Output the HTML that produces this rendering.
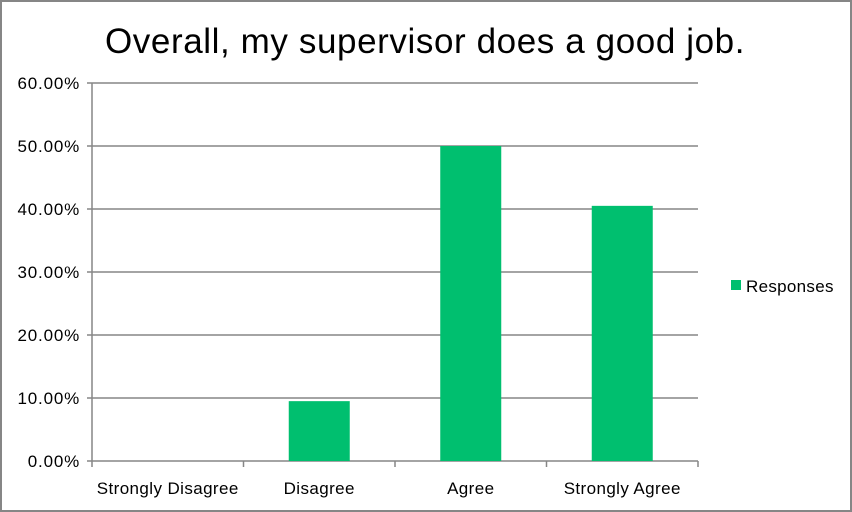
<!DOCTYPE html>
<html><head><meta charset="utf-8"><style>
html,body{margin:0;padding:0;background:#fff;}
svg{display:block;font-family:"Liberation Sans",sans-serif;}
</style></head><body>
<svg id="chart" width="852" height="512" viewBox="0 0 852 512">
<rect x="1" y="1" width="850" height="510" fill="#fff" stroke="#868686" stroke-width="2"/>
<text x="425" y="53" text-anchor="middle" font-size="35" letter-spacing="0.6" fill="#000">Overall, my supervisor does a good job.</text>
<g id="grid"></g><g id="bars"></g><g id="axes"></g>
<g>
<rect x="731" y="280" width="10" height="10" fill="#00BF6F"/>
<text x="746" y="292" font-size="17" letter-spacing="0.3" fill="#000">Responses</text>
</g>
</svg>
<script>
const categories=["Strongly Disagree","Disagree","Agree","Strongly Agree"];
const values=[0,9.5,50,40.5];
const ticks=[0,10,20,30,40,50,60];
const tickLabels=["0.00%","10.00%","20.00%","30.00%","40.00%","50.00%","60.00%"];
const NS="http://www.w3.org/2000/svg";
const x0=92,x1=698,yTop=83,yBot=461,yMax=60;
const bw=(x1-x0)/categories.length;
function y(v){return yBot-(v/yMax)*(yBot-yTop);}
function xc(i){return x0+bw*(i+0.5);}
function mk(t,a,p){const e=document.createElementNS(NS,t);for(const k in a)e.setAttribute(k,a[k]);p.appendChild(e);return e;}
const grid=document.getElementById('grid'),bars=document.getElementById('bars'),axes=document.getElementById('axes');
ticks.forEach((t,i)=>{
  const l=mk('line',{x1:x0-5,x2:x1,y1:y(t),y2:y(t),stroke:'#868686','stroke-width':1.5},grid);
  
  
  const tx=mk('text',{x:x0-12,y:y(t)+6,'text-anchor':'end','font-size':17,'letter-spacing':0.8,fill:'#000'},axes);
  tx.textContent=tickLabels[i];
  
  
});
values.forEach((v,i)=>{
  const w=61;
  const r=mk('rect',{x:xc(i)-w/2,y:y(v),width:w,height:yBot-y(v),fill:'#00BF6F'},bars);
  
  
  const tx=mk('text',{x:xc(i),y:494,'text-anchor':'middle','font-size':17,'letter-spacing':0.4,fill:'#000'},axes);
  tx.textContent=categories[i];
  
  
});
for(let i=0;i<=categories.length;i++){
  const t=mk('line',{x1:x0+bw*i,x2:x0+bw*i,y1:yBot,y2:yBot+6,stroke:'#868686','stroke-width':1.5},axes);
  
  
}
const ya=mk('line',{x1:x0,x2:x0,y1:yTop,y2:yBot,stroke:'#868686','stroke-width':1.5},axes);


</script>
</body></html>
